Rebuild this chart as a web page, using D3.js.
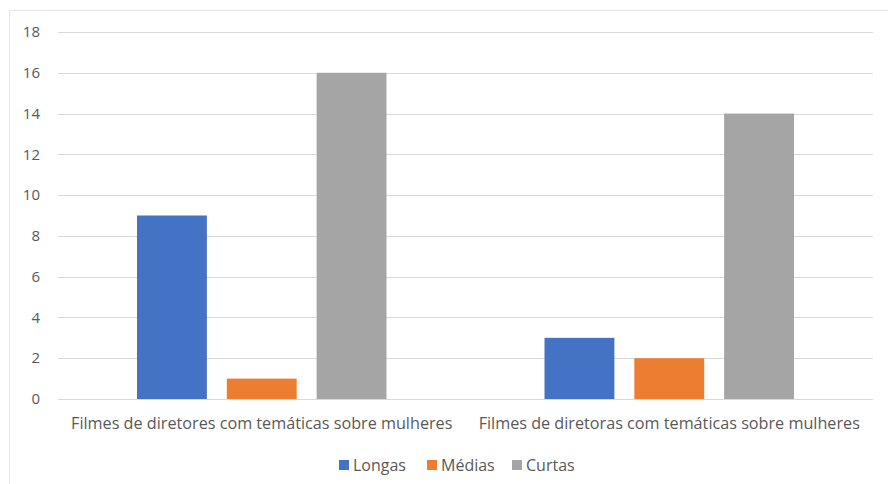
<!DOCTYPE html>
<meta charset="utf-8">
<style>
    body { margin: 0; background: #fff; }
    svg text { font-family: "Open Sans", "Liberation Sans", sans-serif; fill: #595959; }
</style>
<script src="https://d3js.org/d3.v7.min.js"></script>
<div id="chart"></div>
<script>
    // data
    var categories = ["Filmes de diretores com temáticas sobre mulheres",
                      "Filmes de diretoras com temáticas sobre mulheres"];
    var seriesNames = ["Longas", "Médias", "Curtas"];
    var longas = [9, 3];
    var medias = [1, 2];
    var curtas = [16, 14];
    var yTicks = [0, 2, 4, 6, 8, 10, 12, 14, 16, 18];
    var colors = ["#4472C4", "#ED7D31", "#A5A5A5"];

    var seriesValues = [longas, medias, curtas];

    var W = 888, H = 484;
    var margin = {top: 32, right: 15, bottom: 85, left: 58},
        width = W - margin.left - margin.right,
        height = H - margin.top - margin.bottom;

    var svg = d3.select("#chart").append("svg")
        .attr("width", W)
        .attr("height", H);

    // chart frame
    svg.append("path")
        .attr("d", "M9.5," + H + "V10.5H" + W)
        .attr("fill", "none")
        .attr("stroke", "#e6e6e6");

    var g = svg.append("g")
        .attr("transform", "translate(" + margin.left + "," + margin.top + ")");

    var x0 = d3.scaleBand().domain(categories).range([0, width]);
    var x1 = d3.scaleBand().domain(seriesNames)
        .range([79, x0.bandwidth() - 79])
        .paddingInner(0.222);
    var y = d3.scaleLinear().domain([0, 18]).range([height, 0]);

    // gridlines
    g.append("g").selectAll("line")
        .data(yTicks)
        .enter().append("line")
        .attr("x1", 0).attr("x2", width)
        .attr("y1", function(d) { return Math.round(y(d)) + 0.5; })
        .attr("y2", function(d) { return Math.round(y(d)) + 0.5; })
        .attr("stroke", "#d9d9d9");

    // y labels
    g.append("g").selectAll("text")
        .data(yTicks)
        .enter().append("text")
        .attr("x", -18)
        .attr("y", function(d) { return y(d); })
        .attr("dy", "0.35em")
        .attr("text-anchor", "end")
        .style("font-size", "15px")
        .text(function(d) { return d; });

    // bars
    var groups = g.selectAll(".grp")
        .data(categories)
        .enter().append("g")
        .attr("transform", function(d) { return "translate(" + x0(d) + ",0)"; });

    groups.selectAll("rect")
        .data(function(d, i) {
            return seriesNames.map(function(s, j) { return {s: s, v: seriesValues[j][i], c: colors[j]}; });
        })
        .enter().append("rect")
        .attr("x", function(d) { return x1(d.s); })
        .attr("width", x1.bandwidth())
        .attr("y", function(d) { return y(d.v); })
        .attr("height", function(d) { return height - y(d.v); })
        .attr("fill", function(d) { return d.c; });

    // category labels
    g.append("g").selectAll("text")
        .data(categories)
        .enter().append("text")
        .attr("x", function(d) { return x0(d) + x0.bandwidth() / 2; })
        .attr("y", height + 30)
        .attr("text-anchor", "middle")
        .style("font-size", "16.2px")
        .text(function(d) { return d; });

    // legend
    var legend = svg.append("g").attr("transform", "translate(339,465)");
    var lx = [0, 88, 173];
    seriesNames.forEach(function(s, i) {
        legend.append("rect")
            .attr("x", lx[i]).attr("y", -5)
            .attr("width", 10).attr("height", 10)
            .attr("fill", colors[i]);
        legend.append("text")
            .attr("x", lx[i] + 14).attr("y", 0)
            .attr("dy", "0.35em")
            .style("font-size", "16px")
            .text(s);
    });
</script>
